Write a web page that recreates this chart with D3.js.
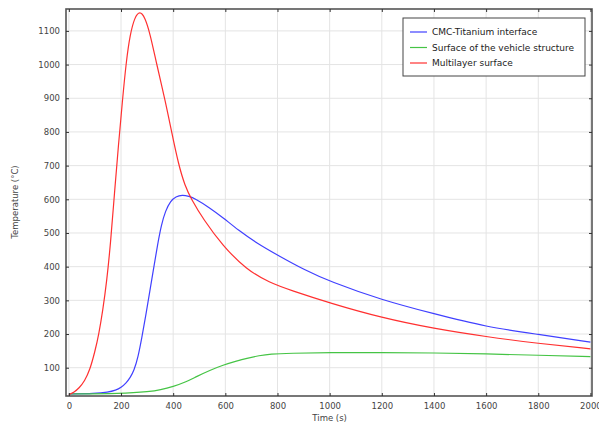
<!DOCTYPE html>
<meta charset="utf-8">
<title>Temperature vs time</title>
<body style="margin:0;background:#fff">
<svg width=599 height=428></svg>
<script src="https://d3js.org/d3.v7.min.js"></script>
<script>
    // [time (s), temperature (°C)]
    const interfaceCurve = [[0,22],[100,23],[150,27],[180,33],[200,41],[220,55],[235,70],[250,92],[265,130],
        [280,190],[295,255],[310,325],[325,395],[340,465],[355,525],[370,565],[390,595],[410,608],[435,613],
        [460,609],[484,602],[540,575],[592,545],[650,508],[720,470],[810,430],[900,392],[1000,356],[1200,301],
        [1400,260],[1600,221],[1800,199],[2000,176]];
    const structureCurve = [[0,22],[200,23],[311,29],[350,34],[400,44],[450,58],[490,74],[540,92],[592,108],
        [640,119],[682,128],[730,136],[772,141],[848,143],[1000,145],[1200,145],[1400,144],[1600,141],[1800,137],[2000,133]];
    const surfaceCurve = [[0,20],[20,27],[40,40],[60,60],[80,92],[100,148],[115,200],[130,270],[145,355],
        [160,470],[175,620],[190,760],[205,890],[220,1010],[235,1090],[252,1140],[272,1160],[292,1140],
        [311,1093],[337,1000],[369,895],[394,800],[420,705],[445,640],[470,600],[516,540],[590,462],[680,392],
        [770,352],[850,330],[1000,292],[1200,248],[1400,216],[1600,192],[1800,172],[2000,156]];

    const seriesNames = ["CMC-Titanium interface", "Surface of the vehicle structure", "Multilayer surface"];
    const seriesColors = ["#4040ff", "#45c445", "#ff3030"];
    const xTicks = d3.range(0, 2001, 200);
    const yTicks = d3.range(100, 1101, 100);

    const font = 'DejaVu Sans, sans-serif';
    const svg = d3.select('svg');
    const x = d3.scaleLinear().domain([-11, 2006]).range([66, 592]);
    const y = d3.scaleLinear().domain([16, 1165]).range([396, 9]);

    // grid
    svg.append('g').selectAll('line').data(xTicks).join('line')
        .attr('x1', d => x(d)).attr('x2', d => x(d)).attr('y1', 9).attr('y2', 396)
        .attr('stroke', '#e4e4e4').attr('stroke-width', 1);
    svg.append('g').selectAll('line').data(yTicks).join('line')
        .attr('x1', 66).attr('x2', 592).attr('y1', d => y(d)).attr('y2', d => y(d))
        .attr('stroke', '#e4e4e4').attr('stroke-width', 1);

    // curves
    const line = d3.line().x(d => x(d[0])).y(d => y(d[1])).curve(d3.curveBasis);
    [interfaceCurve, structureCurve, surfaceCurve].forEach((c, i) => {
        svg.append('path').datum(c).attr('d', line)
            .attr('fill', 'none').attr('stroke', seriesColors[i]).attr('stroke-width', 1.2);
    });

    // frame + inward ticks on every side
    svg.append('rect').attr('x', 66).attr('y', 9).attr('width', 526).attr('height', 387)
        .attr('fill', 'none').attr('stroke', '#555').attr('stroke-width', 1.6);
    const fmt = d3.format('d');
    const axB = svg.append('g').attr('transform', 'translate(0,396)')
        .call(d3.axisBottom(x).tickValues(xTicks).tickFormat(fmt).tickSizeInner(-3).tickSizeOuter(0).tickPadding(7));
    const axT = svg.append('g').attr('transform', 'translate(0,9)')
        .call(d3.axisTop(x).tickValues(xTicks).tickSizeInner(-3).tickSizeOuter(0).tickFormat(''));
    const axL = svg.append('g').attr('transform', 'translate(66,0)')
        .call(d3.axisLeft(y).tickValues(yTicks).tickFormat(fmt).tickSizeInner(-3).tickSizeOuter(0).tickPadding(6));
    const axR = svg.append('g').attr('transform', 'translate(592,0)')
        .call(d3.axisRight(y).tickValues(yTicks).tickSizeInner(-3).tickSizeOuter(0).tickFormat(''));
    [axB, axT, axL, axR].forEach(a => {
        a.select('.domain').remove();
        a.selectAll('line').attr('stroke', '#333');
        a.selectAll('text').attr('font-family', font).attr('font-size', 8.5).attr('fill', '#444');
    });

    // axis titles
    svg.append('text').attr('x', x(1000)).attr('y', 421).attr('text-anchor', 'middle')
        .attr('font-family', font).attr('font-size', 8.5).attr('fill', '#444')
        .text('Time (s)');
    svg.append('text').attr('transform', 'translate(18,202) rotate(-90)').attr('text-anchor', 'middle')
        .attr('font-family', font).attr('font-size', 8.5).attr('fill', '#444')
        .text('Temperature (°C)');

    // legend
    const lg = svg.append('g').attr('transform', 'translate(403,18)');
    lg.append('rect').attr('width', 182).attr('height', 58)
        .attr('fill', '#fff').attr('stroke', '#444').attr('stroke-width', 1);
    seriesNames.forEach((n, i) => {
        const yy = 14 + i * 15.5;
        lg.append('line').attr('x1', 7).attr('x2', 24).attr('y1', yy).attr('y2', yy)
            .attr('stroke', seriesColors[i]).attr('stroke-width', 1.2);
        lg.append('text').attr('x', 29).attr('y', yy + 3).attr('font-size', 9)
            .attr('font-family', font).attr('fill', '#222').text(n);
    });
</script>
